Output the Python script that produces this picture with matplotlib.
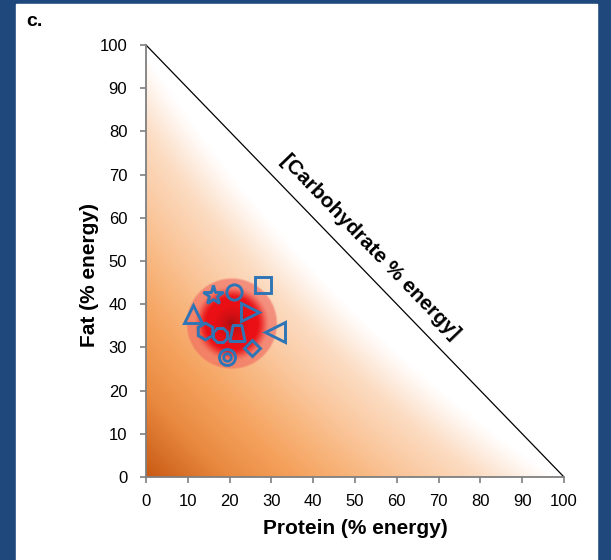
import numpy as np
import matplotlib
matplotlib.use('Agg')
import matplotlib.pyplot as plt
from matplotlib.colors import LinearSegmentedColormap, to_rgb
from matplotlib.patches import Rectangle
from matplotlib.path import Path

plt.rcParams['font.family'] = ['Liberation Sans', 'DejaVu Sans']

# Số liệu (Protein / Fat, % năng lượng)
protein = [16.1, 21.1, 28.1, 11.3, 24.9, 14.1, 17.7, 21.7, 30.9, 25.3, 19.4]
fat = [42.1, 42.9, 44.4, 37.7, 38.3, 33.8, 32.9, 33.3, 33.6, 29.8, 27.8]
ticks = [0, 10, 20, 30, 40, 50, 60, 70, 80, 90, 100]

# vùng đỏ (mật độ) quanh trung bình
blob_center = (20.5, 35.5)
blob_radius = 11.0

# kiểu marker cho từng điểm
trap = Path([(-0.95, -1), (0.95, -1), (0.55, 1), (-0.55, 1), (-0.95, -1)],
            [Path.MOVETO, Path.LINETO, Path.LINETO, Path.LINETO, Path.CLOSEPOLY])
styles = [('*', 14.5), ('o', 11), ('s', 11.5), ('^', 13.5), ('>', 13), ('h', 12),
          ('8', 11), (trap, 11.5), ('<', 14), ('D', 8), ('o', 11.5)]

blue = '#2e75b6'

fig = plt.figure(figsize=(6.11, 5.60), dpi=100, facecolor='#1f497d')
fig.add_artist(Rectangle((16 / 611, 0), (597 - 16) / 611, 1 - 4 / 560,
                         transform=fig.transFigure, color='white', zorder=-1))
ax = fig.add_axes([146 / 611, 1 - 477 / 560, 418 / 611, 432 / 560])
ax.set_facecolor('none')

# nền gradient cam trong tam giác
n = 700
xs = np.linspace(0, 100, n)
X, Y = np.meshgrid(xs, xs)
s = (X + Y + 0.5 * X * Y / 100) / 100
cmap = LinearSegmentedColormap.from_list('org', [
    (0.0, '#c95a14'), (0.2, '#e98a40'), (0.37, '#f5a25e'), (0.5, '#f8b57c'),
    (0.6, '#fac396'), (0.7, '#fbd0ad'), (0.8, '#fcdcc2'), (0.87, '#fdeadb'),
    (0.93, '#fff6f0'), (0.98, '#ffffff'), (1.0, '#ffffff')])
img = cmap(np.clip(s, 0, 1))
img[..., 3] = np.clip((100 - X - Y) * 3, 0, 1)

# vùng đỏ
cx, cy = blob_center
r = np.sqrt((X - cx) ** 2 + ((Y - cy) * 1.033) ** 2) / blob_radius
ring_a = 0.65 * np.clip((1 - r) * 25, 0, 1)
ring_c = np.array(to_rgb('#f06a60'))
for k in range(3):
    img[..., k] = img[..., k] * (1 - ring_a) + ring_c[k] * ring_a
core_a = np.clip((0.84 - r) / 0.3, 0, 1)
core_a = core_a * core_a * (3 - 2 * core_a)
t = np.clip(r / 0.4, 0, 1)
t = np.sqrt(t)
dark = np.array([0.6, 0.06, 0.07])
red = np.array([0.92, 0.06, 0.08])
for k in range(3):
    col = dark[k] * (1 - t) + red[k] * t
    img[..., k] = img[..., k] * (1 - core_a) + col * core_a
img[..., 3] = np.maximum(img[..., 3], np.clip((1 - r) * 25, 0, 1))
ax.imshow(img, extent=(0, 100, 0, 100), origin='lower', aspect='auto',
          interpolation='bilinear', zorder=1)

ax.plot([0, 100], [100, 0], color='black', lw=0.9, zorder=2)

for px, py, (m, ms) in zip(protein, fat, styles):
    ax.plot(px, py, linestyle='none', marker=m, markersize=ms,
            markerfacecolor='none', markeredgecolor=blue, markeredgewidth=2.1, zorder=4)
# vòng tròn đôi
ax.plot(protein[-1], fat[-1], linestyle='none', marker='o', markersize=5.5,
        markerfacecolor='none', markeredgecolor=blue, markeredgewidth=2.0, zorder=4)

ax.set_xlim(0, 100)
ax.set_ylim(0, 100)
ax.set_xticks(ticks)
ax.set_yticks(ticks)
for side in ['top', 'right']:
    ax.spines[side].set_visible(False)
for side in ['left', 'bottom']:
    ax.spines[side].set_color('#7f7f7f')
    ax.spines[side].set_linewidth(1.3)
    ax.spines[side].set_zorder(3)
ax.tick_params(axis='both', length=4.5, width=1.2, color='#7f7f7f', labelsize=12)
ax.tick_params(axis='x', pad=8)
ax.tick_params(axis='y', pad=9)

ax.set_xlabel('Protein (% energy)', fontsize=15, fontweight='bold')
ax.xaxis.set_label_coords(0.5, -0.097)
ax.set_ylabel('Fat (% energy)', fontsize=15, fontweight='bold')
ax.yaxis.set_label_coords(-0.136, 0.468)
ax.yaxis.label.set_verticalalignment('center')

ax.text(53.6, 53.2, '[Carbohydrate % energy]', rotation=-46, fontsize=15,
        fontweight='bold', ha='center', va='center', rotation_mode='anchor', zorder=5)

fig.text(26 / 611, 1 - 21 / 560, 'c.', fontsize=14, fontweight='bold', va='center', ha='left')

fig.savefig('out.png', dpi=100, facecolor=fig.get_facecolor())
